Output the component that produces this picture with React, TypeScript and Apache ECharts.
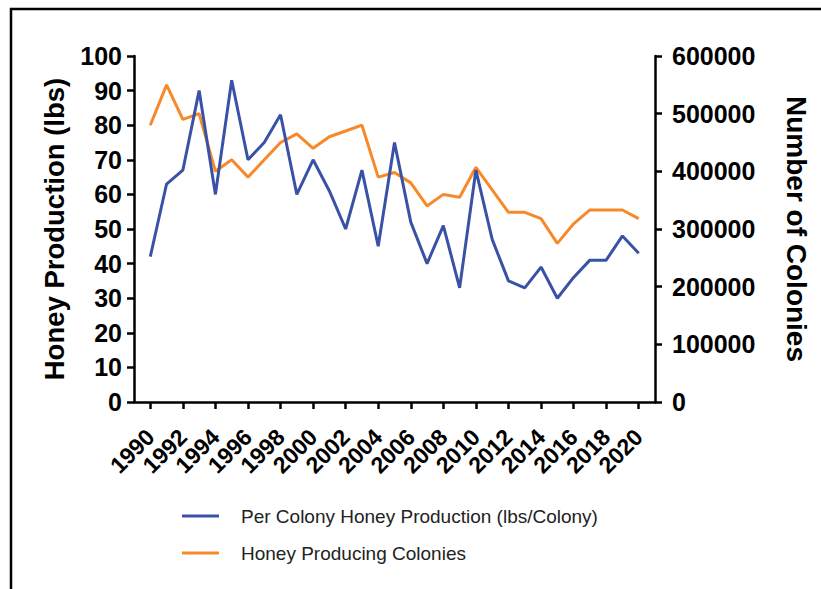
import React, { useEffect, useRef } from "react";
import * as echarts from "echarts";

const years = [
  "1990", "1991", "1992", "1993", "1994", "1995", "1996", "1997", "1998", "1999",
  "2000", "2001", "2002", "2003", "2004", "2005", "2006", "2007", "2008", "2009",
  "2010", "2011", "2012", "2013", "2014", "2015", "2016", "2017", "2018", "2019", "2020",
];

const perColony = [
  42, 63, 67, 90, 60, 93, 70, 75, 83, 60,
  70, 61, 50, 67, 45, 75, 52, 40, 51, 33,
  67, 47, 35, 33, 39, 30, 36, 41, 41, 48, 43,
];

const colonies = [
  480000, 550000, 490000, 500000, 400000, 420000, 390000, 420000, 450000, 465000,
  440000, 460000, 470000, 480000, 390000, 398000, 380000, 340000, 360000, 355000,
  407000, 368000, 329000, 329000, 318000, 275000, 309000, 333000, 333000, 333000, 318000,
];

const leftTicks = { min: 0, max: 100, interval: 10 };
const rightTicks = { min: 0, max: 600000, interval: 100000 };

const seriesNames = [
  "Per Colony Honey Production (lbs/Colony)",
  "Honey Producing Colonies",
];

export default function App() {
  const ref = useRef<HTMLDivElement>(null);

  useEffect(() => {
    if (!ref.current) return;
    const chart = echarts.init(ref.current, undefined, { renderer: "svg" });

    // pad the category axis by one year on each side
    const first = String(Number(years[0]) - 1);
    const last = String(Number(years[years.length - 1]) + 1);
    const cats = [first, ...years, last];
    const pad = (arr: number[]) => [null, ...arr, null];
    const showEven = (idx: number) =>
      idx > 0 && idx < cats.length - 1 && (idx - 1) % 2 === 0;

    const font = "'Liberation Sans', Arial, Helvetica, sans-serif";
    const axisLine = { show: true, lineStyle: { color: "#000", width: 2.5 } };
    const axisTick = { show: true, length: 7, lineStyle: { color: "#000", width: 2.5 } };

    chart.setOption({
      animation: false,
      backgroundColor: "#fff",
      textStyle: { fontFamily: font },
      graphic: [
        {
          type: "rect",
          shape: { x: 11, y: 9, width: 1000, height: 800 },
          style: { fill: "none", stroke: "#000", lineWidth: 2.5 },
          silent: true,
        },
      ],
      grid: { left: 134, right: 166, top: 56, bottom: 187, containLabel: false },
      legend: {
        orient: "vertical",
        left: 182,
        top: 506,
        padding: 0,
        icon: "rect",
        itemWidth: 37,
        itemHeight: 3,
        itemGap: 17,
        textStyle: {
          fontFamily: font,
          fontSize: 19,
          color: "#222",
          lineHeight: 20,
          padding: [0, 0, 0, 17],
        },
        data: seriesNames,
      },
      xAxis: {
        type: "category",
        data: cats,
        boundaryGap: false,
        axisLine,
        axisTick: { ...axisTick, interval: (idx: number) => showEven(idx) },
        axisLabel: {
          interval: (idx: number) => showEven(idx),
          rotate: 45,
          margin: 31,
          fontSize: 23,
          fontWeight: "bold",
          color: "#000",
          fontFamily: font,
        },
        splitLine: { show: false },
      },
      yAxis: [
        {
          type: "value",
          position: "left",
          ...leftTicks,
          name: "Honey Production (lbs)",
          nameLocation: "middle",
          nameGap: 66,
          nameTextStyle: { fontSize: 27.5, fontWeight: "bold", color: "#000", fontFamily: font },
          axisLine,
          axisTick,
          axisLabel: { fontSize: 25, fontWeight: "bold", color: "#000", margin: 12, fontFamily: font },
          splitLine: { show: false },
        },
        {
          type: "value",
          position: "right",
          ...rightTicks,
          name: "Number of Colonies",
          nameLocation: "middle",
          nameRotate: -90,
          nameGap: 127,
          nameTextStyle: { fontSize: 28, fontWeight: "bold", color: "#000", fontFamily: font },
          axisLine,
          axisTick,
          axisLabel: {
            fontSize: 25,
            fontWeight: "bold",
            color: "#000",
            margin: 17,
            fontFamily: font,
            formatter: (v: number) => String(v),
          },
          splitLine: { show: false },
        },
      ],
      series: [
        {
          name: seriesNames[0],
          type: "line",
          yAxisIndex: 0,
          data: pad(perColony),
          symbol: "none",
          color: "#3A52A6",
          lineStyle: { width: 3, color: "#3A52A6" },
          z: 3,
        },
        {
          name: seriesNames[1],
          type: "line",
          yAxisIndex: 1,
          data: pad(colonies),
          symbol: "none",
          color: "#F7892B",
          lineStyle: { width: 3, color: "#F7892B" },
          z: 2,
        },
      ],
    });

    return () => chart.dispose();
  }, []);

  return (
    <div
      ref={ref}
      style={{ position: "fixed", left: 0, top: 0, width: 821, height: 589, background: "#fff" }}
    />
  );
}
